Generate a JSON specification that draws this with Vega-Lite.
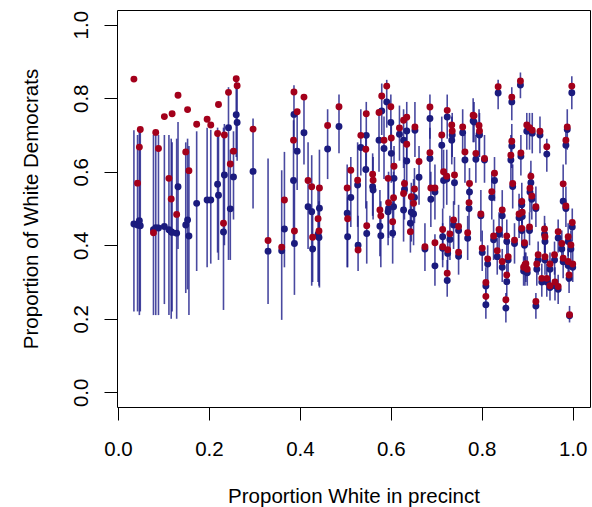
{
  "$schema": "https://vega.github.io/schema/vega-lite/v6.json",
  "autosize": {"type": "none"},
  "padding": {"left": 117, "top": 10, "right": 2, "bottom": 100},
  "width": 473,
  "height": 397,
  "background": "white",
  "config": {
    "view": {"stroke": "#000000", "strokeWidth": 1},
    "axis": {
      "grid": false, "domain": false,
      "labelFont": "Liberation Sans", "titleFont": "Liberation Sans",
      "labelFontSize": 20.5, "titleFontSize": 20.5, "titleFontWeight": "normal",
      "labelColor": "#000000", "titleColor": "#000000",
      "tickColor": "#000000", "tickSize": 13, "tickWidth": 1
    }
  },
  "data": {"values": [
    {"x":0.035,"b":0.458,"lo":0.22,"hi":0.713,"r":0.852},
    {"x":0.043,"b":0.455,"lo":0.22,"hi":0.70,"r":0.569},
    {"x":0.047,"b":0.467,"lo":0.21,"hi":0.71,"r":0.667},
    {"x":0.049,"b":0.453,"lo":0.22,"hi":0.72,"r":0.715},
    {"x":0.078,"b":0.442,"lo":0.21,"hi":0.70,"r":0.434},
    {"x":0.083,"b":0.448,"lo":0.21,"hi":0.71,"r":0.707},
    {"x":0.089,"b":0.447,"lo":0.21,"hi":0.70,"r":0.663},
    {"x":0.102,"b":0.451,"lo":0.24,"hi":0.70,"r":0.750},
    {"x":0.112,"b":0.442,"lo":0.21,"hi":0.70,"r":0.582},
    {"x":0.117,"b":0.437,"lo":0.20,"hi":0.69,"r":0.526},
    {"x":0.119,"b":0.435,"lo":0.22,"hi":0.68,"r":0.758},
    {"x":0.129,"b":0.433,"lo":0.20,"hi":0.69,"r":0.484},
    {"x":0.132,"b":0.559,"lo":0.39,"hi":0.735,"r":0.808},
    {"x":0.149,"b":0.455,"lo":0.27,"hi":0.68,"r":0.654},
    {"x":0.153,"b":0.469,"lo":0.28,"hi":0.69,"r":0.769},
    {"x":0.156,"b":0.425,"lo":0.21,"hi":0.67,"r":0.603},
    {"x":0.173,"b":0.514,"lo":0.33,"hi":0.71,"r":0.729},
    {"x":0.196,"b":0.523,"lo":0.34,"hi":0.72,"r":0.743},
    {"x":0.204,"b":0.523,"lo":0.35,"hi":0.714,"r":0.727},
    {"x":0.219,"b":0.566,"lo":0.38,"hi":0.72,"r":0.704},
    {"x":0.221,"b":0.536,"lo":0.36,"hi":0.70,"r":0.783},
    {"x":0.232,"b":0.436,"lo":0.224,"hi":0.72,"r":0.46},
    {"x":0.234,"b":0.591,"lo":0.40,"hi":0.73,"r":0.70},
    {"x":0.243,"b":0.72,"lo":0.36,"hi":0.83,"r":0.816},
    {"x":0.247,"b":0.499,"lo":0.36,"hi":0.66,"r":0.621},
    {"x":0.254,"b":0.586,"lo":0.47,"hi":0.71,"r":0.656},
    {"x":0.260,"b":0.755,"lo":0.64,"hi":0.86,"r":0.853},
    {"x":0.262,"b":0.734,"lo":0.63,"hi":0.84,"r":0.834},
    {"x":0.297,"b":0.601,"lo":0.50,"hi":0.745,"r":0.716},
    {"x":0.330,"b":0.384,"lo":0.24,"hi":0.636,"r":0.413},
    {"x":0.360,"b":0.385,"lo":0.197,"hi":0.604,"r":0.395},
    {"x":0.366,"b":0.444,"lo":0.34,"hi":0.654,"r":0.523},
    {"x":0.387,"b":0.756,"lo":0.66,"hi":0.835,"r":0.817},
    {"x":0.386,"b":0.576,"lo":0.40,"hi":0.74,"r":0.686},
    {"x":0.388,"b":0.405,"lo":0.265,"hi":0.58,"r":0.439},
    {"x":0.394,"b":0.656,"lo":0.55,"hi":0.76,"r":0.763},
    {"x":0.409,"b":0.706,"lo":0.62,"hi":0.80,"r":0.803},
    {"x":0.418,"b":0.505,"lo":0.39,"hi":0.68,"r":0.576},
    {"x":0.426,"b":0.491,"lo":0.29,"hi":0.645,"r":0.559},
    {"x":0.428,"b":0.39,"lo":0.30,"hi":0.50,"r":0.422},
    {"x":0.443,"b":0.501,"lo":0.285,"hi":0.66,"r":0.556},
    {"x":0.440,"b":0.43,"lo":0.30,"hi":0.55,"r":0.472},
    {"x":0.442,"b":0.421,"lo":0.29,"hi":0.52,"r":0.439},
    {"x":0.461,"b":0.662,"lo":0.58,"hi":0.77,"r":0.726},
    {"x":0.486,"b":0.723,"lo":0.65,"hi":0.81,"r":0.777},
    {"x":0.504,"b":0.487,"lo":0.34,"hi":0.62,"r":0.556},
    {"x":0.505,"b":0.423,"lo":0.34,"hi":0.53,"r":0.472},
    {"x":0.512,"b":0.530,"lo":0.45,"hi":0.64,"r":0.604},
    {"x":0.527,"b":0.564,"lo":0.45,"hi":0.68,"r":0.577},
    {"x":0.528,"b":0.40,"lo":0.33,"hi":0.48,"r":0.387},
    {"x":0.534,"b":0.666,"lo":0.59,"hi":0.77,"r":0.699},
    {"x":0.546,"b":0.699,"lo":0.60,"hi":0.79,"r":0.758},
    {"x":0.545,"b":0.606,"lo":0.50,"hi":0.70,"r":0.661},
    {"x":0.547,"b":0.432,"lo":0.35,"hi":0.52,"r":0.453},
    {"x":0.560,"b":0.559,"lo":0.48,"hi":0.65,"r":0.593},
    {"x":0.561,"b":0.55,"lo":0.47,"hi":0.64,"r":0.577},
    {"x":0.574,"b":0.686,"lo":0.60,"hi":0.77,"r":0.761},
    {"x":0.580,"b":0.765,"lo":0.70,"hi":0.84,"r":0.806},
    {"x":0.591,"b":0.79,"lo":0.72,"hi":0.85,"r":0.833},
    {"x":0.585,"b":0.663,"lo":0.58,"hi":0.75,"r":0.686},
    {"x":0.600,"b":0.734,"lo":0.66,"hi":0.81,"r":0.777},
    {"x":0.601,"b":0.650,"lo":0.57,"hi":0.74,"r":0.692},
    {"x":0.619,"b":0.702,"lo":0.63,"hi":0.78,"r":0.719},
    {"x":0.628,"b":0.686,"lo":0.61,"hi":0.77,"r":0.740},
    {"x":0.635,"b":0.711,"lo":0.63,"hi":0.79,"r":0.748},
    {"x":0.653,"b":0.713,"lo":0.64,"hi":0.79,"r":0.722},
    {"x":0.635,"b":0.629,"lo":0.54,"hi":0.72,"r":0.675},
    {"x":0.607,"b":0.582,"lo":0.50,"hi":0.67,"r":0.615},
    {"x":0.662,"b":0.585,"lo":0.51,"hi":0.67,"r":0.628},
    {"x":0.594,"b":0.491,"lo":0.40,"hi":0.58,"r":0.582},
    {"x":0.576,"b":0.452,"lo":0.37,"hi":0.55,"r":0.496},
    {"x":0.578,"b":0.426,"lo":0.34,"hi":0.52,"r":0.480},
    {"x":0.595,"b":0.50,"lo":0.42,"hi":0.60,"r":0.516},
    {"x":0.604,"b":0.433,"lo":0.35,"hi":0.52,"r":0.464},
    {"x":0.606,"b":0.505,"lo":0.42,"hi":0.60,"r":0.529},
    {"x":0.630,"b":0.552,"lo":0.47,"hi":0.64,"r":0.568},
    {"x":0.628,"b":0.496,"lo":0.41,"hi":0.58,"r":0.541},
    {"x":0.650,"b":0.485,"lo":0.40,"hi":0.58,"r":0.514},
    {"x":0.643,"b":0.46,"lo":0.38,"hi":0.54,"r":0.437},
    {"x":0.645,"b":0.49,"lo":0.41,"hi":0.57,"r":0.532},
    {"x":0.652,"b":0.53,"lo":0.46,"hi":0.61,"r":0.553},
    {"x":0.686,"b":0.745,"lo":0.69,"hi":0.81,"r":0.776},
    {"x":0.686,"b":0.636,"lo":0.56,"hi":0.72,"r":0.652},
    {"x":0.688,"b":0.525,"lo":0.45,"hi":0.60,"r":0.556},
    {"x":0.697,"b":0.545,"lo":0.47,"hi":0.62,"r":0.556},
    {"x":0.675,"b":0.39,"lo":0.33,"hi":0.46,"r":0.396},
    {"x":0.697,"b":0.344,"lo":0.29,"hi":0.43,"r":0.407},
    {"x":0.712,"b":0.672,"lo":0.60,"hi":0.75,"r":0.700},
    {"x":0.716,"b":0.576,"lo":0.50,"hi":0.66,"r":0.600},
    {"x":0.723,"b":0.58,"lo":0.51,"hi":0.66,"r":0.588},
    {"x":0.714,"b":0.423,"lo":0.36,"hi":0.50,"r":0.443},
    {"x":0.714,"b":0.392,"lo":0.34,"hi":0.46,"r":0.396},
    {"x":0.725,"b":0.378,"lo":0.32,"hi":0.44,"r":0.388},
    {"x":0.724,"b":0.304,"lo":0.26,"hi":0.36,"r":0.324},
    {"x":0.724,"b":0.749,"lo":0.69,"hi":0.81,"r":0.767},
    {"x":0.734,"b":0.686,"lo":0.62,"hi":0.75,"r":0.727},
    {"x":0.735,"b":0.70,"lo":0.64,"hi":0.76,"r":0.711},
    {"x":0.758,"b":0.706,"lo":0.65,"hi":0.77,"r":0.722},
    {"x":0.781,"b":0.738,"lo":0.68,"hi":0.80,"r":0.754},
    {"x":0.783,"b":0.735,"lo":0.68,"hi":0.79,"r":0.752},
    {"x":0.794,"b":0.702,"lo":0.64,"hi":0.77,"r":0.726},
    {"x":0.795,"b":0.70,"lo":0.64,"hi":0.76,"r":0.711},
    {"x":0.836,"b":0.814,"lo":0.77,"hi":0.85,"r":0.831},
    {"x":0.866,"b":0.79,"lo":0.74,"hi":0.83,"r":0.803},
    {"x":0.866,"b":0.67,"lo":0.61,"hi":0.73,"r":0.683},
    {"x":0.864,"b":0.632,"lo":0.57,"hi":0.70,"r":0.645},
    {"x":0.868,"b":0.56,"lo":0.50,"hi":0.62,"r":0.568},
    {"x":0.885,"b":0.836,"lo":0.80,"hi":0.87,"r":0.847},
    {"x":0.763,"b":0.632,"lo":0.57,"hi":0.70,"r":0.654},
    {"x":0.787,"b":0.634,"lo":0.57,"hi":0.70,"r":0.650},
    {"x":0.806,"b":0.632,"lo":0.57,"hi":0.70,"r":0.636},
    {"x":0.740,"b":0.57,"lo":0.51,"hi":0.64,"r":0.591},
    {"x":0.772,"b":0.50,"lo":0.44,"hi":0.57,"r":0.516},
    {"x":0.773,"b":0.545,"lo":0.49,"hi":0.61,"r":0.568},
    {"x":0.828,"b":0.576,"lo":0.52,"hi":0.64,"r":0.596},
    {"x":0.822,"b":0.53,"lo":0.47,"hi":0.60,"r":0.546},
    {"x":0.798,"b":0.48,"lo":0.41,"hi":0.55,"r":0.485},
    {"x":0.845,"b":0.48,"lo":0.42,"hi":0.55,"r":0.496},
    {"x":0.882,"b":0.475,"lo":0.42,"hi":0.54,"r":0.485},
    {"x":0.738,"b":0.455,"lo":0.39,"hi":0.52,"r":0.469},
    {"x":0.749,"b":0.44,"lo":0.38,"hi":0.51,"r":0.451},
    {"x":0.730,"b":0.416,"lo":0.36,"hi":0.48,"r":0.431},
    {"x":0.749,"b":0.37,"lo":0.32,"hi":0.43,"r":0.381},
    {"x":0.769,"b":0.419,"lo":0.36,"hi":0.48,"r":0.434},
    {"x":0.801,"b":0.38,"lo":0.33,"hi":0.44,"r":0.392},
    {"x":0.813,"b":0.349,"lo":0.30,"hi":0.40,"r":0.363},
    {"x":0.826,"b":0.415,"lo":0.36,"hi":0.47,"r":0.425},
    {"x":0.838,"b":0.43,"lo":0.38,"hi":0.49,"r":0.443},
    {"x":0.855,"b":0.41,"lo":0.36,"hi":0.47,"r":0.425},
    {"x":0.834,"b":0.369,"lo":0.32,"hi":0.42,"r":0.385},
    {"x":0.845,"b":0.34,"lo":0.30,"hi":0.39,"r":0.356},
    {"x":0.858,"b":0.36,"lo":0.31,"hi":0.41,"r":0.369},
    {"x":0.872,"b":0.405,"lo":0.35,"hi":0.46,"r":0.414},
    {"x":0.809,"b":0.289,"lo":0.25,"hi":0.34,"r":0.299},
    {"x":0.809,"b":0.238,"lo":0.20,"hi":0.28,"r":0.261},
    {"x":0.855,"b":0.301,"lo":0.26,"hi":0.35,"r":0.319},
    {"x":0.853,"b":0.229,"lo":0.19,"hi":0.27,"r":0.252},
    {"x":0.998,"b":0.815,"lo":0.77,"hi":0.86,"r":0.833},
    {"x":0.899,"b":0.71,"lo":0.66,"hi":0.76,"r":0.727},
    {"x":0.905,"b":0.715,"lo":0.66,"hi":0.76,"r":0.72},
    {"x":0.911,"b":0.705,"lo":0.65,"hi":0.76,"r":0.713},
    {"x":0.928,"b":0.70,"lo":0.65,"hi":0.75,"r":0.710},
    {"x":0.943,"b":0.648,"lo":0.60,"hi":0.69,"r":0.668},
    {"x":0.886,"b":0.642,"lo":0.59,"hi":0.70,"r":0.651},
    {"x":0.988,"b":0.715,"lo":0.66,"hi":0.77,"r":0.722},
    {"x":0.985,"b":0.672,"lo":0.62,"hi":0.73,"r":0.686},
    {"x":0.908,"b":0.57,"lo":0.52,"hi":0.63,"r":0.588},
    {"x":0.906,"b":0.545,"lo":0.49,"hi":0.60,"r":0.555},
    {"x":0.910,"b":0.525,"lo":0.47,"hi":0.58,"r":0.534},
    {"x":0.919,"b":0.50,"lo":0.45,"hi":0.56,"r":0.505},
    {"x":0.888,"b":0.51,"lo":0.46,"hi":0.57,"r":0.519},
    {"x":0.979,"b":0.52,"lo":0.50,"hi":0.62,"r":0.567},
    {"x":0.985,"b":0.50,"lo":0.45,"hi":0.56,"r":0.507},
    {"x":0.889,"b":0.478,"lo":0.43,"hi":0.53,"r":0.49},
    {"x":0.999,"b":0.45,"lo":0.41,"hi":0.50,"r":0.462},
    {"x":0.938,"b":0.43,"lo":0.38,"hi":0.48,"r":0.444},
    {"x":0.968,"b":0.42,"lo":0.38,"hi":0.47,"r":0.437},
    {"x":0.894,"b":0.40,"lo":0.36,"hi":0.45,"r":0.407},
    {"x":0.939,"b":0.41,"lo":0.37,"hi":0.46,"r":0.423},
    {"x":0.990,"b":0.41,"lo":0.37,"hi":0.46,"r":0.423},
    {"x":0.976,"b":0.39,"lo":0.35,"hi":0.44,"r":0.405},
    {"x":0.996,"b":0.39,"lo":0.35,"hi":0.44,"r":0.401},
    {"x":0.895,"b":0.33,"lo":0.29,"hi":0.38,"r":0.347},
    {"x":0.924,"b":0.36,"lo":0.32,"hi":0.41,"r":0.374},
    {"x":0.939,"b":0.36,"lo":0.32,"hi":0.41,"r":0.369},
    {"x":0.960,"b":0.36,"lo":0.32,"hi":0.41,"r":0.374},
    {"x":0.979,"b":0.355,"lo":0.31,"hi":0.40,"r":0.365},
    {"x":0.990,"b":0.345,"lo":0.30,"hi":0.39,"r":0.356},
    {"x":1.0,"b":0.34,"lo":0.30,"hi":0.39,"r":0.349},
    {"x":0.921,"b":0.335,"lo":0.29,"hi":0.38,"r":0.349},
    {"x":0.950,"b":0.335,"lo":0.29,"hi":0.38,"r":0.349},
    {"x":0.932,"b":0.30,"lo":0.26,"hi":0.35,"r":0.31},
    {"x":0.943,"b":0.30,"lo":0.26,"hi":0.35,"r":0.31},
    {"x":0.950,"b":0.285,"lo":0.25,"hi":0.33,"r":0.29},
    {"x":0.961,"b":0.29,"lo":0.25,"hi":0.34,"r":0.30},
    {"x":0.968,"b":0.28,"lo":0.24,"hi":0.32,"r":0.288},
    {"x":0.919,"b":0.235,"lo":0.20,"hi":0.27,"r":0.247},
    {"x":0.993,"b":0.208,"lo":0.19,"hi":0.235,"r":0.211},
    {"x":0.992,"b":0.31,"lo":0.27,"hi":0.36,"r":0.319},
    {"x":0.888,"b":0.44,"lo":0.40,"hi":0.50,"r":0.446},
    {"x":0.892,"b":0.33,"lo":0.29,"hi":0.37,"r":0.34},
    {"x":0.897,"b":0.335,"lo":0.30,"hi":0.38,"r":0.35},
    {"x":0.900,"b":0.325,"lo":0.29,"hi":0.37,"r":0.335},
    {"x":0.905,"b":0.44,"lo":0.40,"hi":0.49,"r":0.45}
  ]},
  "encoding": {
    "x": {
      "field": "x", "type": "quantitative",
      "scale": {"domain": [-0.0022, 1.038], "nice": false, "zero": false},
      "axis": {
        "values": [0, 0.2, 0.4, 0.6, 0.8, 1.0], "format": ".1f",
        "labelPadding": 19, "labelBaseline": "top",
        "title": "Proportion White in precinct",
        "titleX": 236.5, "titleY": 89, "titleBaseline": "middle", "titleAlign": "center"
      }
    }
  },
  "layer": [
    {
      "mark": {"type": "rule", "color": "#1c1c88", "strokeWidth": 1.6, "opacity": 0.8},
      "encoding": {
        "y": {"field": "lo", "type": "quantitative", "scale": {"domain": [-0.04, 1.04], "nice": false, "zero": false},
          "axis": {
            "values": [0, 0.2, 0.4, 0.6, 0.8, 1.0], "format": ".1f",
            "labelAngle": -90, "labelAlign": "center", "labelBaseline": "middle", "labelPadding": 23,
            "title": "Proportion of White Democrats", "titleAngle": 270,
            "titleX": -86, "titleY": 198.5, "titleBaseline": "middle", "titleAlign": "center"
          }},
        "y2": {"field": "hi"}
      }
    },
    {
      "mark": {"type": "circle", "color": "#1b1b7e", "size": 48, "opacity": 1},
      "encoding": {"y": {"field": "b", "type": "quantitative"}}
    },
    {
      "mark": {"type": "circle", "color": "#a3001b", "size": 48, "opacity": 1},
      "encoding": {"y": {"field": "r", "type": "quantitative"}}
    }
  ]
}
